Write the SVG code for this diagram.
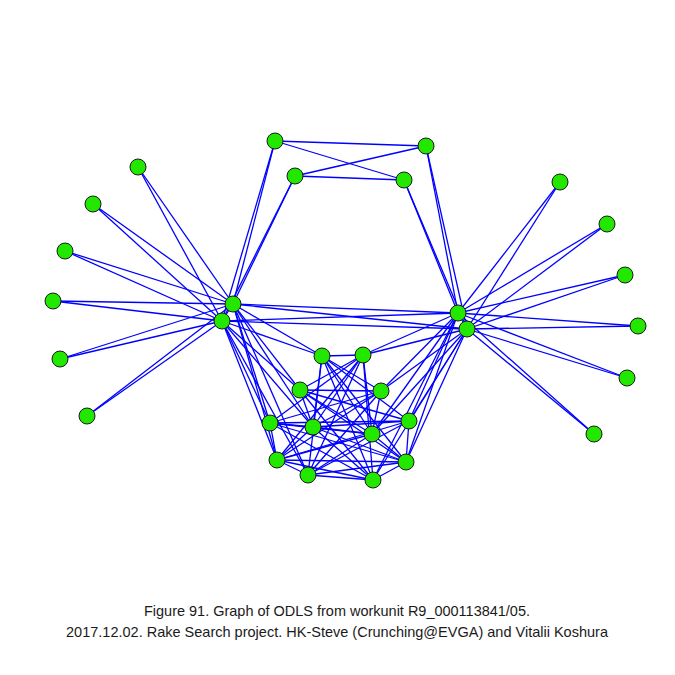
<svg xmlns="http://www.w3.org/2000/svg" width="675" height="675" viewBox="0 0 675 675">
<style>
.e line{stroke:#0000ff;stroke-width:1.3}
.n circle{fill:#22e800;stroke:#1a1a1a;stroke-width:1}
.cap{font-family:"Liberation Sans",Arial,sans-serif;font-size:15px;fill:#1a1a1a;text-anchor:middle}
</style>
<rect width="675" height="675" fill="#fff"/>
<g id="edges" class="e">
<!-- top -->
<line x1="275" y1="141" x2="426" y2="146"/>
<line x1="275" y1="141" x2="404" y2="180"/>
<line x1="295" y1="176" x2="426" y2="146"/>
<line x1="295" y1="176" x2="404" y2="180"/>
<line x1="275" y1="141" x2="233" y2="304"/>
<line x1="275" y1="141" x2="222" y2="321"/>
<line x1="295" y1="176" x2="233" y2="304"/>
<line x1="295" y1="176" x2="222" y2="321"/>
<line x1="426" y1="146" x2="458" y2="313"/>
<line x1="426" y1="146" x2="467" y2="329"/>
<line x1="404" y1="180" x2="458" y2="313"/>
<line x1="404" y1="180" x2="467" y2="329"/>
<!-- hubs -->
<line x1="233" y1="304" x2="222" y2="321"/>
<line x1="458" y1="313" x2="467" y2="329"/>
<line x1="233" y1="304" x2="458" y2="313"/>
<line x1="233" y1="304" x2="467" y2="329"/>
<line x1="222" y1="321" x2="458" y2="313"/>
<line x1="222" y1="321" x2="467" y2="329"/>
<!-- left leaves -->
<line x1="138" y1="167" x2="233" y2="304"/><line x1="138" y1="167" x2="222" y2="321"/>
<line x1="93" y1="204" x2="233" y2="304"/><line x1="93" y1="204" x2="222" y2="321"/>
<line x1="65" y1="251" x2="233" y2="304"/><line x1="65" y1="251" x2="222" y2="321"/>
<line x1="53" y1="301" x2="233" y2="304"/><line x1="53" y1="301" x2="222" y2="321"/>
<line x1="60" y1="359" x2="233" y2="304"/><line x1="60" y1="359" x2="222" y2="321"/>
<line x1="87" y1="416" x2="233" y2="304"/><line x1="87" y1="416" x2="222" y2="321"/>
<!-- right leaves -->
<line x1="560" y1="182" x2="458" y2="313"/><line x1="560" y1="182" x2="467" y2="329"/>
<line x1="607" y1="224" x2="458" y2="313"/><line x1="607" y1="224" x2="467" y2="329"/>
<line x1="625" y1="275" x2="458" y2="313"/><line x1="625" y1="275" x2="467" y2="329"/>
<line x1="638" y1="326" x2="458" y2="313"/><line x1="638" y1="326" x2="467" y2="329"/>
<line x1="627" y1="378" x2="458" y2="313"/><line x1="627" y1="378" x2="467" y2="329"/>
<line x1="594" y1="434" x2="458" y2="313"/><line x1="594" y1="434" x2="467" y2="329"/>
<!-- left hubs to cluster -->
<line x1="233" y1="304" x2="322" y2="356"/><line x1="222" y1="321" x2="322" y2="356"/>
<line x1="233" y1="304" x2="300" y2="390"/><line x1="222" y1="321" x2="300" y2="390"/>
<line x1="233" y1="304" x2="270" y2="423"/><line x1="222" y1="321" x2="270" y2="423"/>
<line x1="233" y1="304" x2="313" y2="427"/><line x1="222" y1="321" x2="313" y2="427"/>
<line x1="233" y1="304" x2="277" y2="460"/><line x1="222" y1="321" x2="277" y2="460"/>
<line x1="233" y1="304" x2="308" y2="475"/><line x1="222" y1="321" x2="308" y2="475"/>
<!-- right hubs to cluster -->
<line x1="458" y1="313" x2="363" y2="355"/><line x1="467" y1="329" x2="363" y2="355"/>
<line x1="458" y1="313" x2="381" y2="391"/><line x1="467" y1="329" x2="381" y2="391"/>
<line x1="458" y1="313" x2="409" y2="421"/><line x1="467" y1="329" x2="409" y2="421"/>
<line x1="458" y1="313" x2="372" y2="434"/><line x1="467" y1="329" x2="372" y2="434"/>
<line x1="458" y1="313" x2="406" y2="462"/><line x1="467" y1="329" x2="406" y2="462"/>
<line x1="458" y1="313" x2="373" y2="480"/><line x1="467" y1="329" x2="373" y2="480"/>
<!-- cluster internal -->
<line x1="322" y1="356" x2="363" y2="355"/>
<line x1="322" y1="356" x2="381" y2="391"/>
<line x1="322" y1="356" x2="372" y2="434"/>
<line x1="322" y1="356" x2="409" y2="421"/>
<line x1="322" y1="356" x2="373" y2="480"/>
<line x1="322" y1="356" x2="406" y2="462"/>
<line x1="322" y1="356" x2="313" y2="427"/>
<line x1="322" y1="356" x2="308" y2="475"/>
<line x1="363" y1="355" x2="300" y2="390"/>
<line x1="363" y1="355" x2="313" y2="427"/>
<line x1="363" y1="355" x2="270" y2="423"/>
<line x1="363" y1="355" x2="277" y2="460"/>
<line x1="363" y1="355" x2="308" y2="475"/>
<line x1="363" y1="355" x2="372" y2="434"/>
<line x1="363" y1="355" x2="373" y2="480"/>
<line x1="300" y1="390" x2="381" y2="391"/>
<line x1="300" y1="390" x2="372" y2="434"/>
<line x1="300" y1="390" x2="409" y2="421"/>
<line x1="300" y1="390" x2="373" y2="480"/>
<line x1="300" y1="390" x2="406" y2="462"/>
<line x1="300" y1="390" x2="313" y2="427"/>
<line x1="381" y1="391" x2="270" y2="423"/>
<line x1="381" y1="391" x2="313" y2="427"/>
<line x1="381" y1="391" x2="277" y2="460"/>
<line x1="381" y1="391" x2="308" y2="475"/>
<line x1="381" y1="391" x2="372" y2="434"/>
<line x1="270" y1="423" x2="409" y2="421"/>
<line x1="270" y1="423" x2="372" y2="434"/>
<line x1="270" y1="423" x2="406" y2="462"/>
<line x1="270" y1="423" x2="373" y2="480"/>
<line x1="270" y1="423" x2="313" y2="427"/>
<line x1="270" y1="423" x2="277" y2="460"/>
<line x1="313" y1="427" x2="409" y2="421"/>
<line x1="313" y1="427" x2="406" y2="462"/>
<line x1="313" y1="427" x2="373" y2="480"/>
<line x1="313" y1="427" x2="372" y2="434"/>
<line x1="313" y1="427" x2="277" y2="460"/>
<line x1="372" y1="434" x2="277" y2="460"/>
<line x1="372" y1="434" x2="308" y2="475"/>
<line x1="372" y1="434" x2="406" y2="462"/>
<line x1="409" y1="421" x2="277" y2="460"/>
<line x1="409" y1="421" x2="308" y2="475"/>
<line x1="409" y1="421" x2="406" y2="462"/>
<line x1="277" y1="460" x2="406" y2="462"/>
<line x1="277" y1="460" x2="373" y2="480"/>
<line x1="277" y1="460" x2="308" y2="475"/>
<line x1="308" y1="475" x2="406" y2="462"/>
<line x1="308" y1="475" x2="373" y2="480"/>
<line x1="373" y1="480" x2="406" y2="462"/>
</g>
<g class="n">
<g id="t1"><circle cx="275" cy="141" r="8"/></g>
<g id="t2"><circle cx="426" cy="146" r="8"/></g>
<g id="t3"><circle cx="295" cy="176" r="8"/></g>
<g id="t4"><circle cx="404" cy="180" r="8"/></g>
<g id="hl1"><circle cx="233" cy="304" r="8"/></g>
<g id="hl2"><circle cx="222" cy="321" r="8"/></g>
<g id="hr1"><circle cx="458" cy="313" r="8"/></g>
<g id="hr2"><circle cx="467" cy="329" r="8"/></g>
<g id="l1"><circle cx="138" cy="167" r="8"/></g>
<g id="l2"><circle cx="93" cy="204" r="8"/></g>
<g id="l3"><circle cx="65" cy="251" r="8"/></g>
<g id="l4"><circle cx="53" cy="301" r="8"/></g>
<g id="l5"><circle cx="60" cy="359" r="8"/></g>
<g id="l6"><circle cx="87" cy="416" r="8"/></g>
<g id="r1"><circle cx="560" cy="182" r="8"/></g>
<g id="r2"><circle cx="607" cy="224" r="8"/></g>
<g id="r3"><circle cx="625" cy="275" r="8"/></g>
<g id="r4"><circle cx="638" cy="326" r="8"/></g>
<g id="r5"><circle cx="627" cy="378" r="8"/></g>
<g id="r6"><circle cx="594" cy="434" r="8"/></g>
<g id="c1"><circle cx="322" cy="356" r="8"/></g>
<g id="c2"><circle cx="363" cy="355" r="8"/></g>
<g id="c3"><circle cx="300" cy="390" r="8"/></g>
<g id="c4"><circle cx="381" cy="391" r="8"/></g>
<g id="c5"><circle cx="270" cy="423" r="8"/></g>
<g id="c6"><circle cx="313" cy="427" r="8"/></g>
<g id="c7"><circle cx="372" cy="434" r="8"/></g>
<g id="c8"><circle cx="409" cy="421" r="8"/></g>
<g id="c9"><circle cx="277" cy="460" r="8"/></g>
<g id="c10"><circle cx="308" cy="475" r="8"/></g>
<g id="c11"><circle cx="373" cy="480" r="8"/></g>
<g id="c12"><circle cx="406" cy="462" r="8"/></g>
</g>
<g id="caption">
<text class="cap" x="337" y="616" textLength="386" lengthAdjust="spacingAndGlyphs">Figure 91. Graph of ODLS from workunit R9_000113841/05.</text>
<text class="cap" x="337" y="637" textLength="542" lengthAdjust="spacingAndGlyphs">2017.12.02. Rake Search project. HK-Steve (Crunching@EVGA) and Vitalii Koshura</text>
</g>
</svg>
